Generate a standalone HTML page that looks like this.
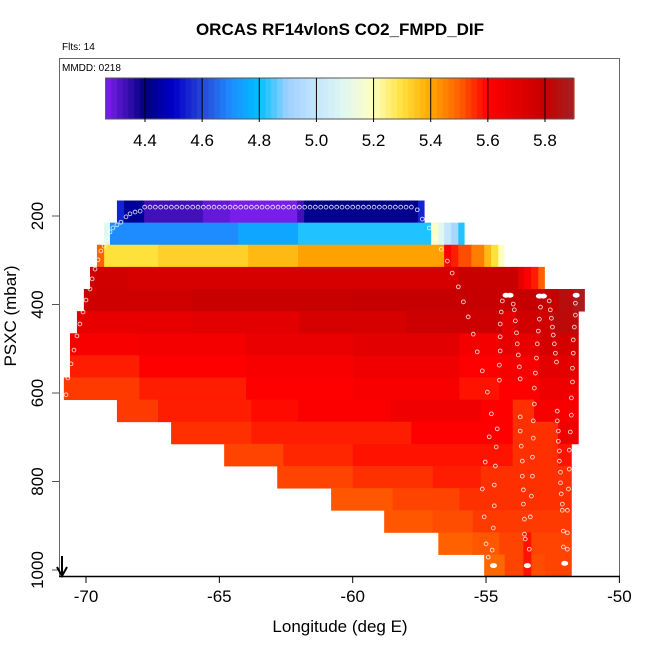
<!DOCTYPE html>
<html><head><meta charset="utf-8"><style>
html,body{margin:0;padding:0;background:#fff;}
svg{display:block;font-family:"Liberation Sans",Arial,sans-serif;}
</style></head><body>
<svg id="chart" width="650" height="650" viewBox="0 0 650 650" xmlns="http://www.w3.org/2000/svg">
<text x="340" y="35" text-anchor="middle" font-size="17" font-weight="bold">ORCAS RF14vlonS CO2_FMPD_DIF</text>
<text x="62" y="50" font-size="10">Flts: 14</text>
<g id="cells"></g>
<g id="dots"></g>
<rect x="59.5" y="58.5" width="560" height="518" fill="none" stroke="#666" stroke-width="1"/>
<line x1="59" y1="576.5" x2="620" y2="576.5" stroke="#000" stroke-width="1.5"/>
<text x="62" y="71" font-size="10">MMDD: 0218</text>
<g id="cbar"></g>
<g id="xaxis"></g>
<g id="yaxis"></g>
<text x="340" y="632" text-anchor="middle" font-size="17">Longitude (deg E)</text>
<text transform="translate(16,316) rotate(-90)" text-anchor="middle" font-size="17">PSXC (mbar)</text>
<g>
<line x1="62" y1="556" x2="62" y2="575" stroke="#000" stroke-width="2"/>
<path d="M57,567 L62,576 L67,567" fill="none" stroke="#000" stroke-width="2"/>
</g>
</svg>
<script>
// ---- data ----
const rowTopP = [165,215,265,315,365,415,465,515,565,615,665,715,765,815,865,915,965];
const rowEdges = [
 [-68.84,-68.57,-67.82,-65.61,-64.60,-62.08,-61.82,-57.55,-57.32],
 [-69.32,-69.10,-64.30,-62.05,-57.06,-56.79,-56.57,-56.31,-56.04,-55.82],
 [-69.59,-69.32,-67.30,-63.92,-62.05,-56.57,-56.31,-56.04,-55.55,-55.07,-54.81,-54.54,-54.32],
 [-69.85,-68.42,-56.04,-53.79,-53.57,-53.31,-53.04,-52.81],
 [-70.08,-66.0,-60.0,-52.29,-51.73,-51.31],
 [-70.34,-66.0,-62.0,-58.0,-54.4,-53.9,-52.5,-51.54],
 [-70.60,-68.0,-64.0,-60.0,-56.0,-54.5,-53.0,-51.54],
 [-70.60,-68.0,-64.0,-60.0,-56.0,-54.5,-53.0,-51.54],
 [-70.83,-68.0,-64.0,-60.0,-56.0,-54.5,-53.0,-51.54],
 [-68.84,-67.3,-63.8,-62.05,-58.6,-55.2,-54.0,-53.2,-51.54],
 [-66.81,-63.8,-57.8,-55.2,-54.0,-52.3,-51.54],
 [-64.82,-62.6,-60.0,-55.2,-54.0,-52.3,-51.80],
 [-62.83,-60.0,-57.0,-55.2,-53.0,-51.80],
 [-60.81,-58.5,-56.0,-53.0,-51.80],
 [-58.82,-57.0,-55.5,-53.0,-51.80],
 [-56.79,-55.5,-54.5,-53.6,-53.3,-51.80],
 [-55.07,-54.3,-53.6,-53.3,-52.8,-51.80]
];
const rowValues = [
 [4.55,4.43,4.33,4.29,4.27,4.33,4.42,4.55],
 [5.1,4.7,4.75,4.82,5.18,5.1,5.0,4.93,4.82],
 [5.5,5.3,5.33,5.37,5.41,5.6,5.57,5.52,5.46,5.37,5.3,5.2],
 [5.76,5.74,5.79,5.68,5.6,5.57,5.5],
 [5.77,5.79,5.8,5.84,5.88],
 [5.68,5.7,5.74,5.78,5.7,5.76,5.83],
 [5.62,5.64,5.67,5.7,5.64,5.68,5.75],
 [5.57,5.6,5.62,5.65,5.6,5.63,5.7],
 [5.54,5.57,5.6,5.62,5.58,5.6,5.66],
 [5.54,5.57,5.59,5.61,5.65,5.6,5.55,5.62],
 [5.55,5.57,5.6,5.6,5.55,5.66],
 [5.53,5.56,5.58,5.58,5.55,5.58],
 [5.53,5.55,5.57,5.55,5.55],
 [5.51,5.53,5.55,5.55],
 [5.51,5.52,5.54,5.54],
 [5.5,5.51,5.53,5.58,5.53],
 [5.49,5.53,5.58,5.52,5.53]
];
const dotLon = [-70.75,-70.68,-70.56,-70.45,-70.34,-70.23,-70.11,-70.0,-69.85,-69.77,-69.66,-69.55,-69.44,-69.32,-69.21,-69.10,-68.99,-68.84,-68.69,-68.50,-68.35,-68.16,-67.97,
 -67.8,-67.6,-67.4,-67.2,-67.0,-66.8,-66.6,-66.4,-66.2,-66.0,-65.8,-65.6,-65.4,-65.2,-65.0,-64.8,-64.6,-64.4,-64.2,-64.0,-63.8,-63.6,-63.4,-63.2,-63.0,-62.8,-62.6,-62.4,-62.2,-62.0,-61.8,-61.6,-61.4,-61.2,-61.0,-60.8,-60.6,-60.4,-60.2,-60.0,-59.8,-59.6,-59.4,-59.2,-59.0,-58.8,-58.6,-58.4,-58.2,-58.0,-57.8,
 -57.58,-57.39,-57.13,-56.90,-56.68,-56.45,-56.27,-56.04,-55.85,-55.67,-55.48,-55.33,-55.14,-54.95,
 -54.39,-54.43,-54.47,-54.47,-54.47,-54.50,-54.50,
 -53.98,-53.94,-53.90,-53.86,-53.83,-53.79,-53.75,-53.72,
 -52.96,-53.0,-53.04,-53.08,-53.11,-53.15,-53.19,
 -52.63,-52.59,-52.55,-52.51,-52.48,-52.44,-52.40,-52.36,
 -51.65,-51.65,-51.69,-51.73,-51.73,-51.76,-51.76,-51.80,
 -54.80,-54.58,-54.88,-54.62,-55.03,-54.65,-54.69,-55.14,-54.69,-55.07,-54.73,-55.0,-54.77,-54.92,
 -53.72,-53.19,-53.72,-53.23,-53.68,-53.23,-53.64,-53.26,-53.64,-53.26,-53.60,-53.30,-53.60,-53.56,-53.34,-53.56,-53.53,-53.38,
 -51.80,-52.33,-52.33,-51.84,-52.29,-52.29,-51.88,-52.25,-52.25,-51.88,-52.21,-52.21,-51.91,-52.18,-52.14,-51.95,-52.14,-51.95,-52.10,-52.10,-51.95];
const dotP = [604,566,534,503,471,444,417,390,365,342,320,299,279,268,252,236,227,220,214,202,195,191,189,
 180,180,180,180,180,180,180,180,180,180,180,180,180,180,180,180,180,180,180,180,180,180,180,180,180,180,180,180,180,180,180,180,180,180,180,180,180,180,180,180,180,180,180,180,180,180,180,180,180,180,180,
 186,207,227,250,275,302,329,360,394,428,467,507,550,598,
 392,417,444,473,505,537,571,
 399,412,437,464,489,514,541,568,
 406,433,460,489,521,555,589,
 392,412,431,451,469,489,510,530,
 397,424,451,480,510,544,575,611,
 647,681,699,722,756,765,808,817,855,880,905,941,955,971,
 654,625,686,663,720,702,754,745,788,788,819,833,851,885,880,919,930,953,
 650,641,663,688,686,709,729,731,754,772,779,803,817,828,851,865,865,916,912,948,953];
const blobLon = [-54.25,-54.10,-53.0,-52.85,-51.62,-54.72,-53.45,-52.05];
const blobP = [379,379,381,381,379,990,990,985];
const cbarTicks = [4.4,4.6,4.8,5.0,5.2,5.4,5.6,5.8];
const xTicks = [-70,-65,-60,-55,-50];
const yTicks = [200,400,600,800,1000];

// ---- scales ----
const X = lon => 86 + (lon + 70) * 26.67;
const Y = p => 216 + (p - 200) * 0.4425;
const CB = v => 145 + (v - 4.4) * 285.7;
const stops = [[4.26,[128,32,240]],[4.4,[0,0,128]],[4.5,[0,0,200]],[4.6,[40,70,215]],[4.7,[30,140,255]],[4.8,[0,192,255]],[4.9,[160,208,255]],[5.0,[195,230,255]],[5.1,[225,248,240]],[5.2,[255,255,190]],[5.3,[255,225,60]],[5.4,[255,168,0]],[5.5,[255,96,0]],[5.6,[255,0,0]],[5.8,[198,0,0]],[5.9,[165,32,32]]];
function color(v){
  if(v<=stops[0][0]) return 'rgb('+stops[0][1]+')';
  for(let i=1;i<stops.length;i++){
    if(v<=stops[i][0]){const a=stops[i-1],b=stops[i],t=(v-a[0])/(b[0]-a[0]);
      return 'rgb('+a[1].map((c,k)=>Math.round(c+(b[1][k]-c)*t)).join(',')+')';}
  }
  return 'rgb('+stops[stops.length-1][1]+')';
}
const NS='http://www.w3.org/2000/svg';
function mk(tag,attrs,parent){const e=document.createElementNS(NS,tag);for(const k in attrs)e.setAttribute(k,attrs[k]);parent.appendChild(e);return e;}

// heatmap
const cells=document.getElementById('cells');
rowTopP.forEach((p,r)=>{
  const ed=rowEdges[r], vals=rowValues[r];
  vals.forEach((v,i)=>{
    const x0=X(ed[i]), x1=X(ed[i+1]);
    const e=mk('rect',{x:x0,y:Y(p),width:x1-x0+0.4,height:Y(p+50)-Y(p)+0.4,fill:color(v)},cells);
    
    
  });
});
// dots
const dots=document.getElementById('dots');
dotLon.forEach((lon,i)=>{
  const e=mk('circle',{cx:X(lon),cy:Y(dotP[i]),r:1.9,fill:'none',stroke:'#fff','stroke-opacity':0.8,'stroke-width':0.9},dots);
  
  
});
blobLon.forEach((lon,i)=>{
  const e=mk('ellipse',{cx:X(lon),cy:Y(blobP[i]),rx:3.5,ry:2.5,fill:'#fff'},dots);
  
  
});
// colorbar
const cb=document.getElementById('cbar');
for(let v=4.262; v<5.9; v+=0.02){
  const e=mk('rect',{x:CB(v),y:78,width:0.02*285.7+0.4,height:41,fill:color(v+0.01)},cb);
  
  
}
mk('rect',{x:CB(4.262),y:78,width:CB(5.9)-CB(4.262),height:41,fill:'none',stroke:'#555','stroke-width':1},cb);
cbarTicks.forEach(t=>{
  const l=mk('line',{x1:CB(t),y1:78,x2:CB(t),y2:122,stroke:'#000','stroke-width':1},cb);
  
  
  const tx=mk('text',{x:CB(t),y:146,'text-anchor':'middle','font-size':17},cb);
  tx.textContent=t.toFixed(1);
  
  
});
// x axis
const xa=document.getElementById('xaxis');
xTicks.forEach(t=>{
  const l=mk('line',{x1:X(t),y1:576,x2:X(t),y2:583,stroke:'#000','stroke-width':1},xa);
  
  
  const tx=mk('text',{x:X(t),y:602,'text-anchor':'middle','font-size':17},xa);
  tx.textContent=String(t);
  
  
});
// y axis
const ya=document.getElementById('yaxis');
yTicks.forEach(t=>{
  const l=mk('line',{x1:52,y1:Y(t),x2:59,y2:Y(t),stroke:'#555','stroke-width':1},ya);
  
  
  const tx=mk('text',{transform:'translate(43,'+Y(t)+') rotate(-90)','text-anchor':'middle','font-size':17},ya);
  tx.textContent=String(t);
  
  
});
</script>
</body></html>
